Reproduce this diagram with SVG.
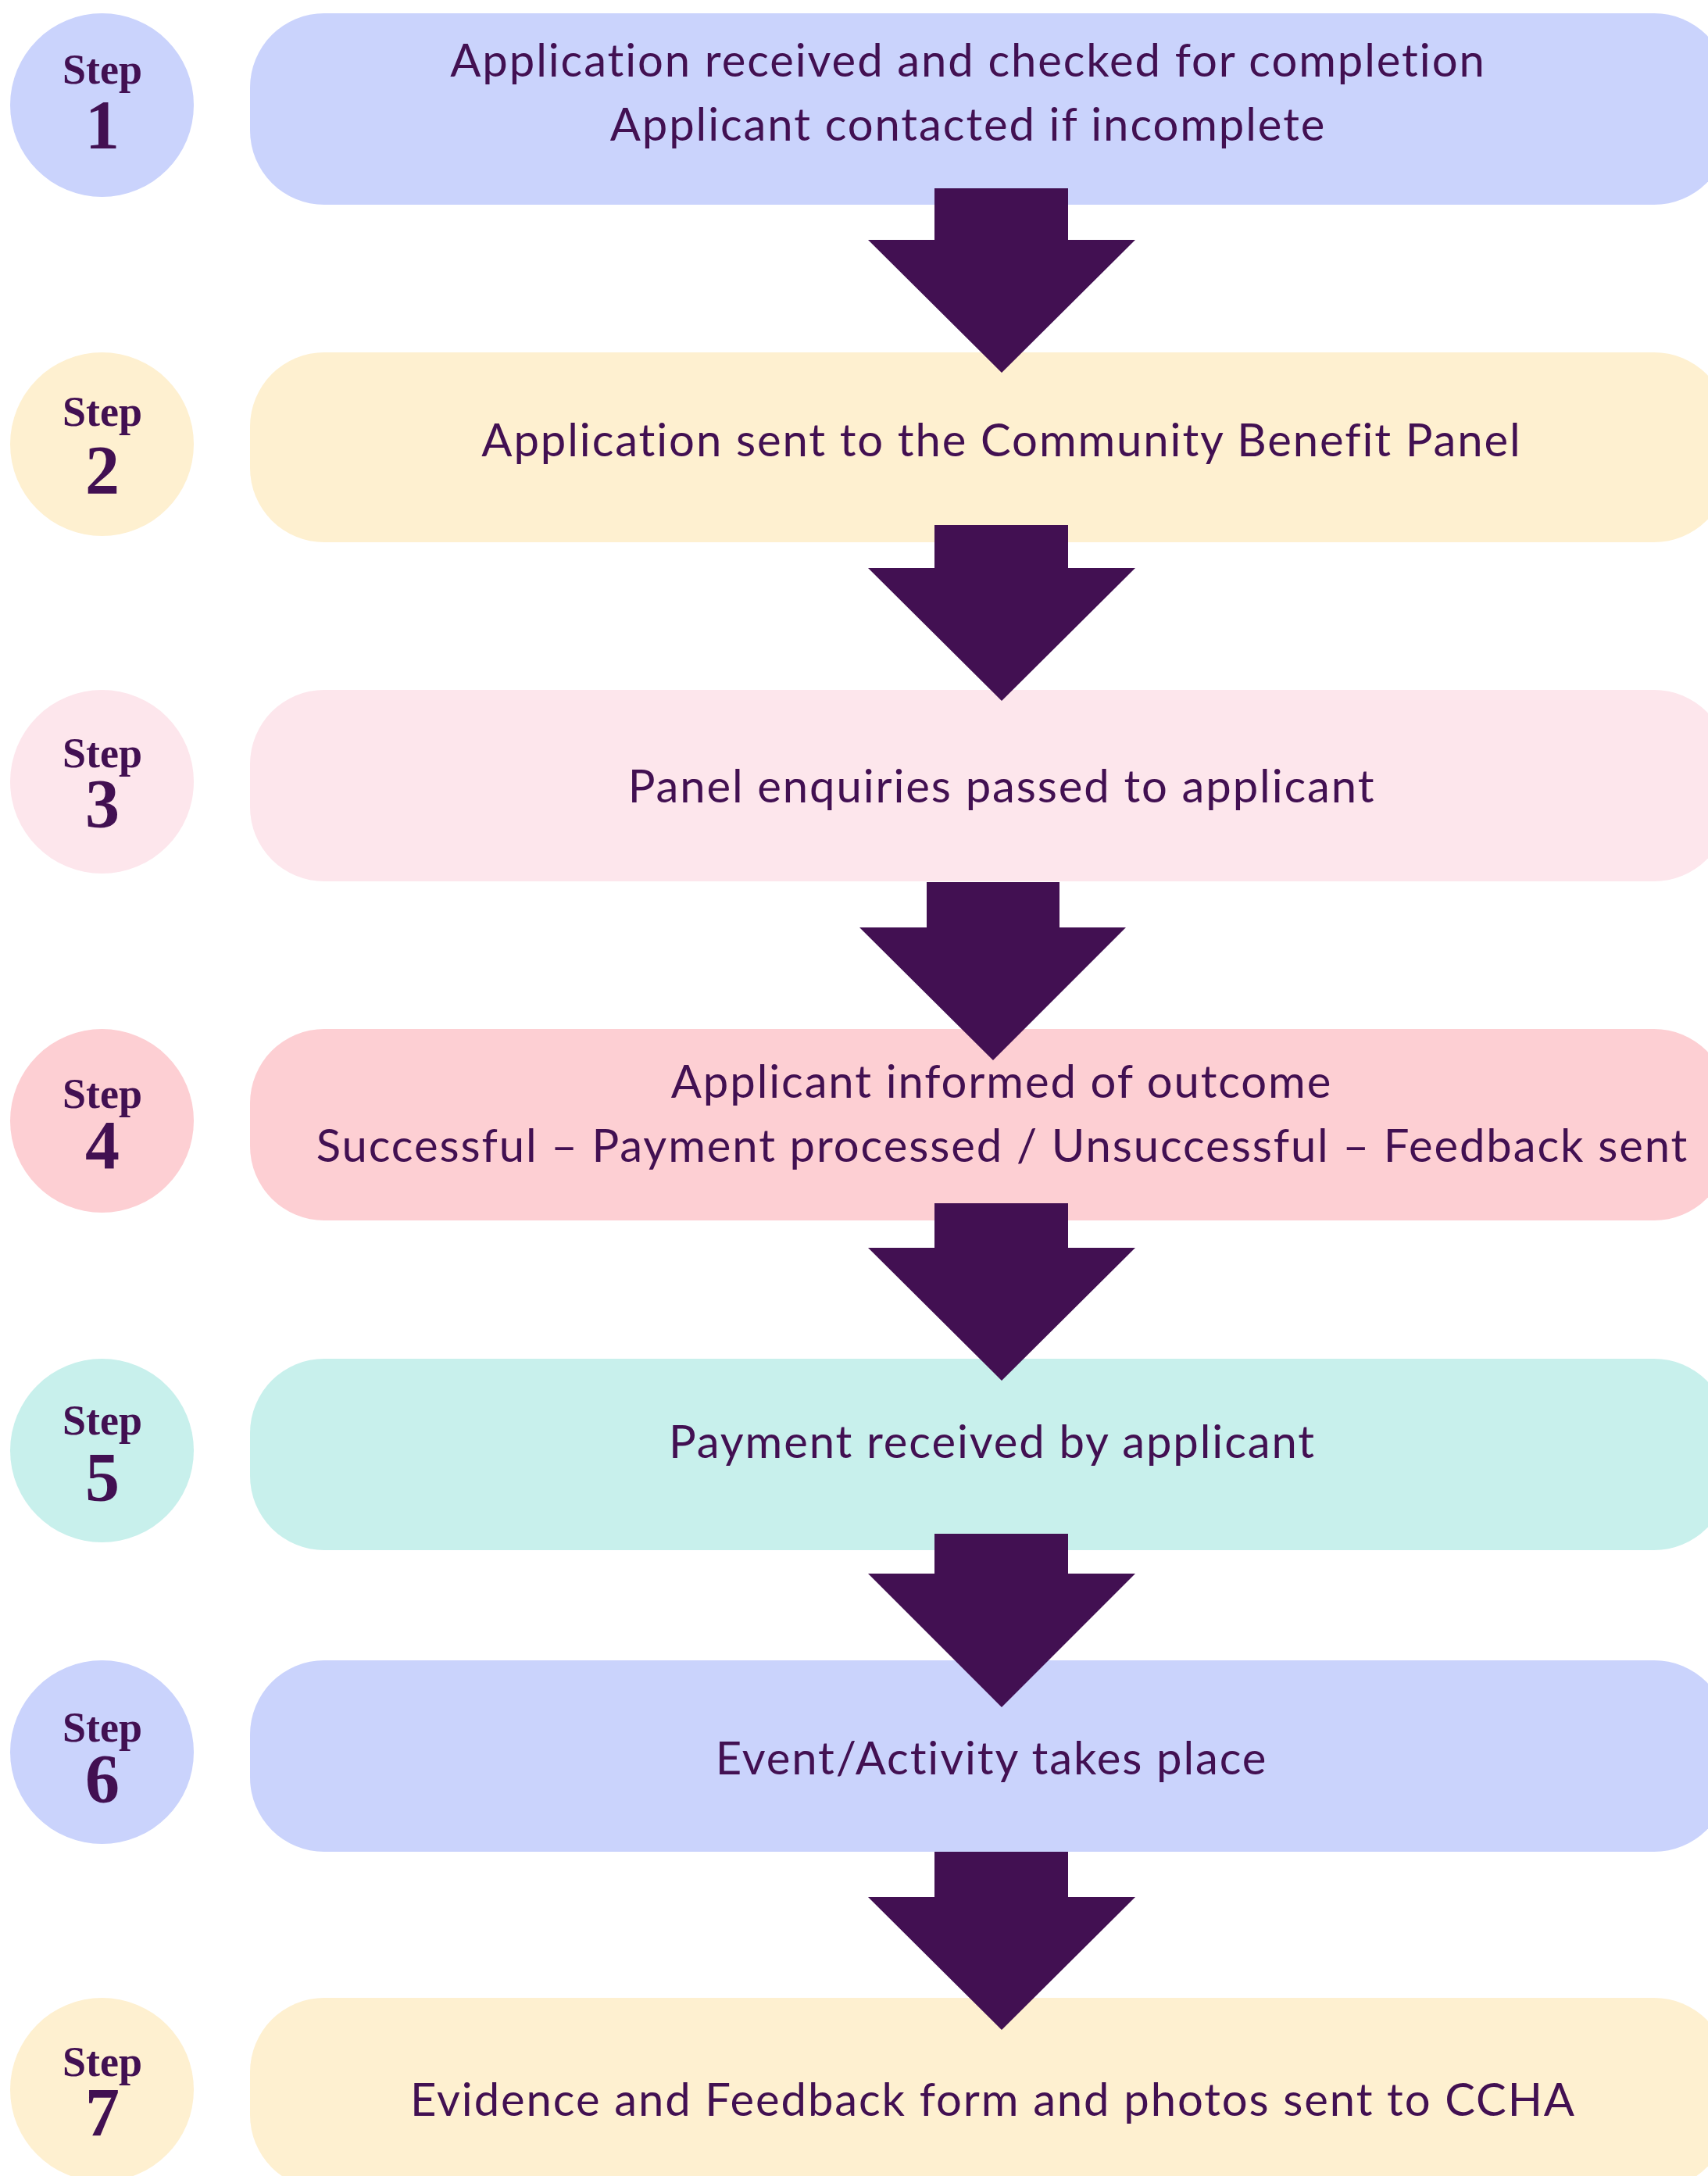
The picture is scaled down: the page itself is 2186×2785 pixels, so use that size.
<svg xmlns="http://www.w3.org/2000/svg" width="2186" height="2785" viewBox="0 0 2186 2785">
<style>
.t{font-family:Lato,"Noto Sans",sans-serif;font-size:58px;letter-spacing:1.9px;fill:#421052;text-anchor:middle}
.s{font-family:"Liberation Serif","Times New Roman",serif;font-weight:bold;font-size:54px;fill:#421052;text-anchor:middle}
.n{font-family:"Liberation Serif","Times New Roman",serif;font-weight:bold;font-size:88px;fill:#421052;text-anchor:middle}
.arrow{fill:#421052}
.c1{fill:#CAD3FC}.c2{fill:#FEF0D0}.c3{fill:#FDE6EC}.c4{fill:#FDCFD3}.c5{fill:#C8F0EC}
</style>
<rect width="2186" height="2785" fill="#ffffff"/>
<g id="step1">
<circle class="c1" cx="130.5" cy="134.5" r="117.5"/>
<text class="s" x="131" y="107">Step</text>
<text class="n" x="131" y="189">1</text>
<rect class="c1" x="320" y="17" width="1892" height="245" rx="95"/>
<text class="t" x="1239" y="98">Application received and checked for completion</text>
<text class="t" x="1239" y="180">Applicant contacted if incomplete</text>
</g>
<g id="step2">
<circle class="c2" cx="130.5" cy="568.5" r="117.5"/>
<text class="s" x="131" y="545">Step</text>
<text class="n" x="131" y="631">2</text>
<rect class="c2" x="320" y="451" width="1892" height="243" rx="95"/>
<text class="t" x="1282" y="584">Application sent to the Community Benefit Panel</text>
</g>
<g id="step3">
<circle class="c3" cx="130.5" cy="1000.5" r="117.5"/>
<text class="s" x="131" y="982">Step</text>
<text class="n" x="131" y="1058">3</text>
<rect class="c3" x="320" y="883" width="1892" height="245" rx="95"/>
<text class="t" x="1282" y="1027">Panel enquiries passed to applicant</text>
</g>
<g id="step4">
<circle class="c4" cx="130.5" cy="1434.5" r="117.5"/>
<text class="s" x="131" y="1418">Step</text>
<text class="n" x="131" y="1495">4</text>
<rect class="c4" x="320" y="1317" width="1892" height="245" rx="95"/>
<text class="t" x="1282" y="1405">Applicant informed of outcome</text>
<text class="t" x="1283" y="1487">Successful – Payment processed / Unsuccessful – Feedback sent</text>
</g>
<g id="step5">
<circle class="c5" cx="130.5" cy="1856.5" r="117.5"/>
<text class="s" x="131" y="1836">Step</text>
<text class="n" x="131" y="1920">5</text>
<rect class="c5" x="320" y="1739" width="1892" height="245" rx="95"/>
<text class="t" x="1270" y="1866">Payment received by applicant</text>
</g>
<g id="step6">
<circle class="c1" cx="130.5" cy="2242.5" r="117.5"/>
<text class="s" x="131" y="2229">Step</text>
<text class="n" x="131" y="2306">6</text>
<rect class="c1" x="320" y="2125" width="1892" height="245" rx="95"/>
<text class="t" x="1269" y="2271">Event/Activity takes place</text>
</g>
<g id="step7">
<circle class="c2" cx="130.5" cy="2674.5" r="117.5"/>
<text class="s" x="131" y="2657">Step</text>
<text class="n" x="131" y="2733">7</text>
<rect class="c2" x="320" y="2557" width="1892" height="245" rx="95"/>
<text class="t" x="1271" y="2708">Evidence and Feedback form and photos sent to CCHA</text>
</g>
<g id="connectors">
<polygon class="arrow" points="1196,241 1367,241 1367,307 1453,307 1282,477 1111,307 1196,307"/>
<polygon class="arrow" points="1196,672 1367,672 1367,727 1453,727 1282,897 1111,727 1196,727"/>
<polygon class="arrow" points="1186,1129 1356,1129 1356,1187 1441,1187 1271,1357 1100,1187 1186,1187"/>
<polygon class="arrow" points="1196,1540 1367,1540 1367,1597 1453,1597 1282,1767 1111,1597 1196,1597"/>
<polygon class="arrow" points="1196,1963 1367,1963 1367,2014 1453,2014 1282,2185 1111,2014 1196,2014"/>
<polygon class="arrow" points="1196,2370 1367,2370 1367,2428 1453,2428 1282,2598 1111,2428 1196,2428"/>
</g>
</svg>
